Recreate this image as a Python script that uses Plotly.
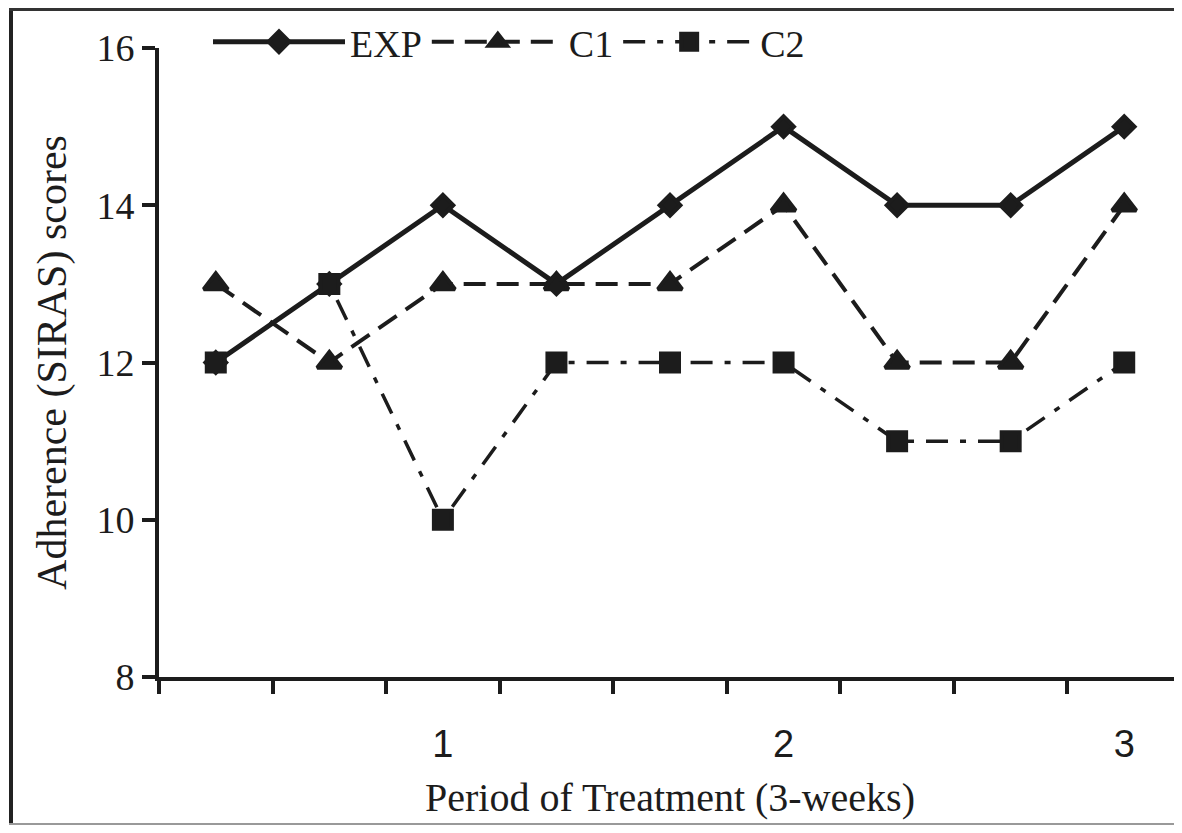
import plotly.graph_objects as go

# ---- data ----
periods = [1, 2, 3, 4, 5, 6, 7, 8, 9]
exp_scores = [12, 13, 14, 13, 14, 15, 14, 14, 15]
c1_scores = [13, 12, 13, 13, 13, 14, 12, 12, 14]
c2_scores = [12, 13, 10, 12, 12, 12, 11, 11, 12]
x_tick_vals = [3, 6, 9]
x_tick_text = ["1", "2", "3"]
y_tick_vals = [8, 10, 12, 14, 16]

# page body has an 8px margin; figure sized so page needs no scrollbars
OFF = 8
W, H = 1174, 817
L, T = 159 - OFF, 48 - OFF
R = W - (1181 - OFF)
B = H - (677 - OFF)
pw, ph = W - L - R, H - T - B

SERIF = "Liberation Serif, Times New Roman, serif"
SANS = "Liberation Sans, Arial, sans-serif"
INK = "#1c1c1c"

fig = go.Figure()
fig.add_trace(go.Scatter(
    x=periods, y=exp_scores, name="EXP", mode="lines+markers",
    line=dict(color=INK, width=5),
    marker=dict(symbol="diamond", size=16, color=INK, line=dict(color=INK, width=4)),
))
fig.add_trace(go.Scatter(
    x=periods, y=c1_scores, name="C1", mode="lines+markers",
    line=dict(color=INK, width=4, dash="22px,11px"),
    marker=dict(symbol="triangle-up", size=21, color=INK, line=dict(color=INK, width=4)),
))
fig.add_trace(go.Scatter(
    x=periods, y=c2_scores, name="C2", mode="lines+markers",
    line=dict(color=INK, width=3.5, dash="22px,12px,6px,12px"),
    marker=dict(symbol="square", size=18, color=INK, line=dict(color=INK, width=4)),
))

def fx(p):  # figure pixel -> paper x
    return (p - L) / pw

def fy(p):  # figure pixel -> paper y
    return (H - B - p) / ph

shapes = [
    dict(type="line", xref="paper", yref="paper", x0=fx(3), x1=fx(3), y0=fy(0), y1=fy(H),
         line=dict(color="#222", width=4)),
    dict(type="line", xref="paper", yref="paper", x0=fx(1), x1=fx(W + 5), y0=fy(1.5), y1=fy(1.5),
         line=dict(color="#333", width=3)),
    dict(type="line", xref="paper", yref="paper", x0=fx(1), x1=fx(W + 5), y0=fy(H - 1), y1=fy(H - 1),
         line=dict(color="#999", width=2)),
]

fig.update_layout(
    width=W, height=H,
    margin=dict(l=L, r=R, t=T, b=B, pad=0),
    paper_bgcolor="white", plot_bgcolor="white",
    showlegend=True,
    legend=dict(
        orientation="h", x=fx(200), y=fy(34), xanchor="left", yanchor="middle",
        font=dict(family=SERIF, size=38, color=INK),
        itemwidth=132, bgcolor="rgba(0,0,0,0)", borderwidth=0,
    ),
    shapes=shapes,
    xaxis=dict(
        range=[0.5, 9.5], showgrid=False, zeroline=False,
        showline=True, linecolor=INK, linewidth=4,
        tickmode="array", tickvals=x_tick_vals, ticktext=x_tick_text,
        ticks="", ticklabelstandoff=30,
        tickfont=dict(family=SANS, size=38, color=INK),
        minor=dict(tick0=0.5, dtick=1, ticks="outside", ticklen=13, tickwidth=4, tickcolor=INK, showgrid=False),
        title=dict(text="Period of Treatment (3-weeks)", font=dict(family=SERIF, size=40, color=INK), standoff=20),
    ),
    yaxis=dict(
        range=[8, 16], showgrid=False, zeroline=False,
        showline=True, linecolor=INK, linewidth=4,
        tickmode="array", tickvals=y_tick_vals,
        ticks="outside", ticklen=13, tickwidth=4, tickcolor=INK,
        tickfont=dict(family=SERIF, size=38, color=INK),
        title=dict(text="Adherence (SIRAS) scores", font=dict(family=SERIF, size=42, color=INK), standoff=18),
    ),
)

fig.write_html("out.html")
